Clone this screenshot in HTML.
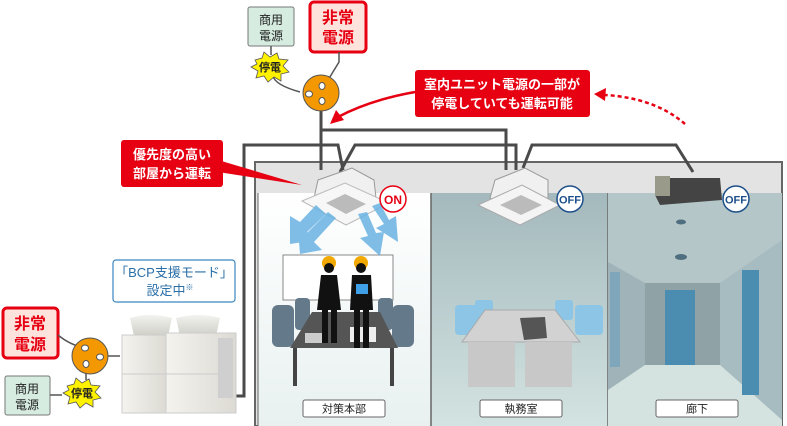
<!DOCTYPE html>
<html><head><meta charset="utf-8"><style>
html,body{margin:0;padding:0;background:#fff;}
svg{display:block;}
text{font-family:"Liberation Sans","Noto Sans CJK JP",sans-serif;}
</style></head><body>
<svg width="787" height="426" viewBox="0 0 787 426" xmlns="http://www.w3.org/2000/svg">
<defs>
<linearGradient id="rb" x1="0" y1="0" x2="0" y2="1"><stop offset="0" stop-color="#a4b9bd"/><stop offset="1" stop-color="#d3e3e1"/></linearGradient>
<linearGradient id="r1" x1="0" y1="0" x2="0" y2="1"><stop offset="0" stop-color="#ffffff"/><stop offset="1" stop-color="#e8f1f0"/></linearGradient>
<linearGradient id="ou" x1="0" y1="0" x2="1" y2="0"><stop offset="0" stop-color="#f4f3ee"/><stop offset="1" stop-color="#dcdad3"/></linearGradient>
<linearGradient id="fan" x1="0" y1="0" x2="0" y2="1"><stop offset="0" stop-color="#f2f2ee"/><stop offset="1" stop-color="#cfcfc8"/></linearGradient>
</defs>

<!-- building -->
<rect x="255" y="162" width="527" height="264" fill="#e3e3e3" stroke="#666" stroke-width="2"/>
<rect x="258" y="193" width="173" height="233" fill="url(#r1)"/>
<rect x="431" y="193" width="177" height="233" fill="url(#rb)"/>
<rect x="608" y="193" width="174" height="233" fill="url(#rb)"/>
<line x1="431" y1="193" x2="431" y2="426" stroke="#666" stroke-width="1.5"/>
<line x1="608" y1="193" x2="608" y2="426" stroke="#666" stroke-width="1.5"/>
<line x1="258" y1="193" x2="258" y2="426" stroke="#666" stroke-width="1"/>

<!-- corridor -->
<polygon points="608,193 782,193 782,426 608,426" fill="#b5c6c8"/>
<polygon points="608,262 645,283 645,365 608,390" fill="#9fb3b8"/>
<polygon points="782,240 720,283 720,365 782,420" fill="#a7bcc0"/>
<rect x="645" y="283" width="75" height="82" fill="#8fa3a7"/>
<polygon points="608,390 645,365 720,365 782,420 782,426 608,426" fill="#d5e3e0"/>
<rect x="665" y="290" width="30" height="75" fill="#4a8db0"/>
<rect x="742" y="270" width="17" height="125" fill="#4a8db0"/>
<rect x="610" y="272" width="10" height="95" fill="#7fa6bb"/>
<ellipse cx="681" cy="257" rx="6" ry="3" fill="#4f6f80"/>
<ellipse cx="681" cy="222" rx="5" ry="2.5" fill="#4f6f80"/>

<!-- office room -->
<rect x="455" y="305" width="28" height="30" rx="4" fill="#8cc5e6"/>
<rect x="575" y="305" width="28" height="30" rx="4" fill="#8cc5e6"/>
<rect x="475" y="300" width="18" height="20" rx="3" fill="#8cc5e6"/>
<rect x="555" y="300" width="18" height="20" rx="3" fill="#8cc5e6"/>
<polygon points="485,310 555,310 580,342 462,342" fill="#d2d2d2" stroke="#aaa"/>
<rect x="468" y="342" width="47" height="45" fill="#c8c8c8"/>
<rect x="525" y="342" width="47" height="45" fill="#c8c8c8"/>
<polygon points="520,318 545,317 547,338 524,340" fill="#555"/>

<!-- meeting room -->
<rect x="283" y="255" width="110" height="45" fill="#fff" stroke="#888"/>
<rect x="272" y="305" width="22" height="42" rx="6" fill="#64798a"/>
<rect x="392" y="305" width="22" height="42" rx="6" fill="#64798a"/>
<rect x="295" y="298" width="15" height="32" rx="4" fill="#64798a"/>
<rect x="378" y="298" width="15" height="32" rx="4" fill="#64798a"/>
<polygon points="312,312 380,312 398,348 290,348" fill="#555"/>
<rect x="293" y="348" width="4" height="38" fill="#444"/>
<rect x="390" y="348" width="4" height="38" fill="#444"/>
<rect x="350" y="327" width="26" height="15" fill="#eee"/>
<rect x="305" y="333" width="22" height="10" fill="#ccc"/>
<!-- people -->
<circle cx="329" cy="263" r="7" fill="#f2a900"/>
<circle cx="329" cy="268" r="5" fill="#111"/>
<path d="M321,275 h16 l4,35 h-24 z" fill="#111"/>
<rect x="322" y="308" width="6" height="35" fill="#111"/><rect x="331" y="308" width="6" height="35" fill="#111"/>
<circle cx="361" cy="263" r="7" fill="#f2a900"/>
<circle cx="361" cy="268" r="5" fill="#111"/>
<path d="M352,275 h19 l2,35 h-23 z" fill="#111"/>
<rect x="354" y="308" width="6" height="40" fill="#111"/><rect x="363" y="308" width="6" height="40" fill="#111"/>
<rect x="356" y="284" width="12" height="10" fill="#3fa0e8"/>

<!-- wires -->
<g fill="none" stroke="#4a4a4a" stroke-width="3">
<path d="M321,105 V170"/>
<path d="M321,130 H506 V170"/>
<path d="M232,396 H244 V145 H338 L343,170"/>
<path d="M340,172 L355,145 H516 V170"/>
<path d="M523,168 L532,145 H676 L693,172"/>
</g>

<!-- AC units -->
<polygon points="318,180 352,168 374,180 376,198 345,215 314,198" fill="#f0f0f0" stroke="#999"/>
<polygon points="302,201 345,183 389,203 346,225" fill="#f7f7f7" stroke="#bbb"/>
<polygon points="326,203 345,194 366,204 346,214" fill="#bbb"/>
<polygon points="495,180 525,168 548,180 548,198 520,215 490,198" fill="#f0f0f0" stroke="#999"/>
<polygon points="478,205 522,185 560,205 520,225" fill="#f4f4f4" stroke="#aaa"/>
<polygon points="500,205 521,195 542,205 521,215" fill="#bbb"/>
<polygon points="655,178 720,178 722,200 660,205 655,195" fill="#444"/>
<rect x="655" y="176" width="15" height="20" fill="#9a9a8a"/>
<!-- airflow -->
<g fill="#6ab3e3" opacity="0.85">
<path d="M316,205 L300,222 L290,216 L290,244 L316,240 L307,232 L326,214 z"/>
<path d="M372,206 L384,224 L376,228 L398,242 L396,216 L389,220 L380,203 z"/>
<path d="M328,212 L306,234 L298,230 L300,254 L322,250 L314,242 L336,218 z"/>
<path d="M358,214 L368,236 L360,238 L380,256 L384,232 L376,233 L367,212 z"/>
</g>
<!-- badges -->
<circle cx="393" cy="199" r="13" fill="#fff" stroke="#e60012" stroke-width="1.5"/>
<text x="393" y="204" font-size="12" font-weight="bold" fill="#e60012" text-anchor="middle">ON</text>
<circle cx="570" cy="199" r="13" fill="#fff" stroke="#1d4f8a" stroke-width="1.5"/>
<text x="570" y="203.5" font-size="11" font-weight="bold" fill="#1d4f8a" text-anchor="middle">OFF</text>
<circle cx="736" cy="199" r="13" fill="#fff" stroke="#1d4f8a" stroke-width="1.5"/>
<text x="736" y="203.5" font-size="11" font-weight="bold" fill="#1d4f8a" text-anchor="middle">OFF</text>

<!-- room labels -->
<g font-size="11" text-anchor="middle" fill="#222">
<rect x="303" y="400" width="82" height="17" rx="2" fill="#fff" stroke="#666"/><text x="344" y="412.5">対策本部</text>
<rect x="480" y="400" width="82" height="17" rx="2" fill="#fff" stroke="#666"/><text x="521" y="412.5">執務室</text>
<rect x="656" y="400" width="82" height="17" rx="2" fill="#fff" stroke="#666"/><text x="697" y="412.5">廊下</text>
</g>

<!-- top power -->
<rect x="248" y="7" width="46" height="39" rx="2" fill="#d6ece1" stroke="#777"/>
<text x="271" y="24" font-size="12" text-anchor="middle" fill="#222">商用</text>
<text x="271" y="40" font-size="12" text-anchor="middle" fill="#222">電源</text>
<rect x="310" y="2" width="56" height="50" rx="4" fill="#fde3dc" stroke="#e60012" stroke-width="3"/>
<text x="338" y="23" font-size="16" font-weight="bold" text-anchor="middle" fill="#e60012">非常</text>
<text x="338" y="43" font-size="16" font-weight="bold" text-anchor="middle" fill="#e60012">電源</text>
<path d="M271,46 V55 M273,76 Q275,85 300,92 M339,52 V62 L325,85" fill="none" stroke="#555" stroke-width="1.5"/>
<polygon points="255,60 262,58 264,52 270,57 277,53 279,59 288,60 283,66 289,72 281,74 281,81 274,77 268,82 264,76 256,78 258,71 251,67 257,64" fill="#fff200" stroke="#555" stroke-width="0.8"/>
<text x="270" y="71" font-size="11" font-weight="bold" text-anchor="middle" fill="#222">停電</text>
<circle cx="321" cy="93" r="18" fill="#f39800" stroke="#555" stroke-width="1"/>
<ellipse cx="309" cy="94" rx="3.5" ry="3" fill="#fff" stroke="#555"/>
<ellipse cx="322" cy="86" rx="3" ry="3.5" fill="#fff" stroke="#555"/>
<ellipse cx="322" cy="101" rx="3" ry="3.5" fill="#fff" stroke="#555"/>

<!-- bottom-left power -->
<rect x="3" y="308" width="55" height="50" rx="4" fill="#fde3dc" stroke="#e60012" stroke-width="3"/>
<text x="30" y="329" font-size="16" font-weight="bold" text-anchor="middle" fill="#e60012">非常</text>
<text x="30" y="350" font-size="16" font-weight="bold" text-anchor="middle" fill="#e60012">電源</text>
<rect x="5" y="376" width="45" height="39" rx="2" fill="#d6ece1" stroke="#777"/>
<text x="27" y="393" font-size="12" text-anchor="middle" fill="#222">商用</text>
<text x="27" y="409" font-size="12" text-anchor="middle" fill="#222">電源</text>
<path d="M58,335 Q70,345 85,348 M50,395 H62 M86,368 V380 M108,356 H120" fill="none" stroke="#555" stroke-width="1.5"/>
<circle cx="90" cy="356" r="18" fill="#f39800" stroke="#555"/>
<ellipse cx="85" cy="348" rx="3.5" ry="3" fill="#fff" stroke="#555"/>
<ellipse cx="100" cy="357" rx="3.5" ry="3" fill="#fff" stroke="#555"/>
<ellipse cx="86" cy="364" rx="3" ry="3.5" fill="#fff" stroke="#555"/>
<polygon points="67,386 74,384 76,378 82,383 89,379 91,385 100,386 95,392 101,398 93,400 93,407 86,403 80,408 76,402 68,404 70,397 63,393 69,390" fill="#fff200" stroke="#555" stroke-width="0.8"/>
<text x="82" y="397" font-size="11" font-weight="bold" text-anchor="middle" fill="#222">停電</text>

<!-- outdoor unit -->
<path d="M130,318 Q150,312 172,318 L168,336 H134 Z" fill="url(#fan)"/>
<path d="M176,318 Q198,312 220,318 L216,336 H180 Z" fill="url(#fan)"/>
<rect x="122" y="335" width="45" height="78" fill="url(#ou)" stroke="#ccc"/>
<rect x="166" y="333" width="70" height="80" fill="url(#ou)" stroke="#ccc"/>
<line x1="122" y1="374" x2="167" y2="374" stroke="#ccc"/>
<line x1="166" y1="374" x2="218" y2="374" stroke="#ccc"/>
<rect x="218" y="338" width="15" height="60" fill="#cfcfcf"/>
<rect x="113" y="260" width="122" height="42" rx="3" fill="#fff" stroke="#3a86c0" stroke-width="1.2"/>
<text x="174" y="277" font-size="13" text-anchor="middle" fill="#2a6fa8">「BCP支援モード」</text>
<text x="170" y="295" font-size="13" text-anchor="middle" fill="#2a6fa8">設定中<tspan font-size="8" dy="-5">※</tspan></text>

<!-- red callouts -->
<polygon points="218,160 302,185 218,172" fill="#e60012"/>
<rect x="121" y="140" width="102" height="47" rx="3" fill="#e60012"/>
<text x="172" y="159" font-size="13" font-weight="bold" text-anchor="middle" fill="#fff">優先度の高い</text>
<text x="172" y="178" font-size="13" font-weight="bold" text-anchor="middle" fill="#fff">部屋から運転</text>
<rect x="415" y="70" width="175" height="47" rx="3" fill="#e60012"/>
<text x="502" y="89" font-size="13" font-weight="bold" text-anchor="middle" fill="#fff">室内ユニット電源の一部が</text>
<text x="502" y="108" font-size="13" font-weight="bold" text-anchor="middle" fill="#fff">停電していても運転可能</text>
<path d="M415,92 Q370,100 338,117" fill="none" stroke="#e60012" stroke-width="2.5"/>
<polygon points="330,124 336,110 344,120" fill="#e60012"/>
<path d="M685,124 Q655,98 605,95" fill="none" stroke="#e60012" stroke-width="2.5" stroke-dasharray="4,3"/>
<polygon points="594,94 606,88 605,101" fill="#e60012"/>
</svg>
</body></html>
